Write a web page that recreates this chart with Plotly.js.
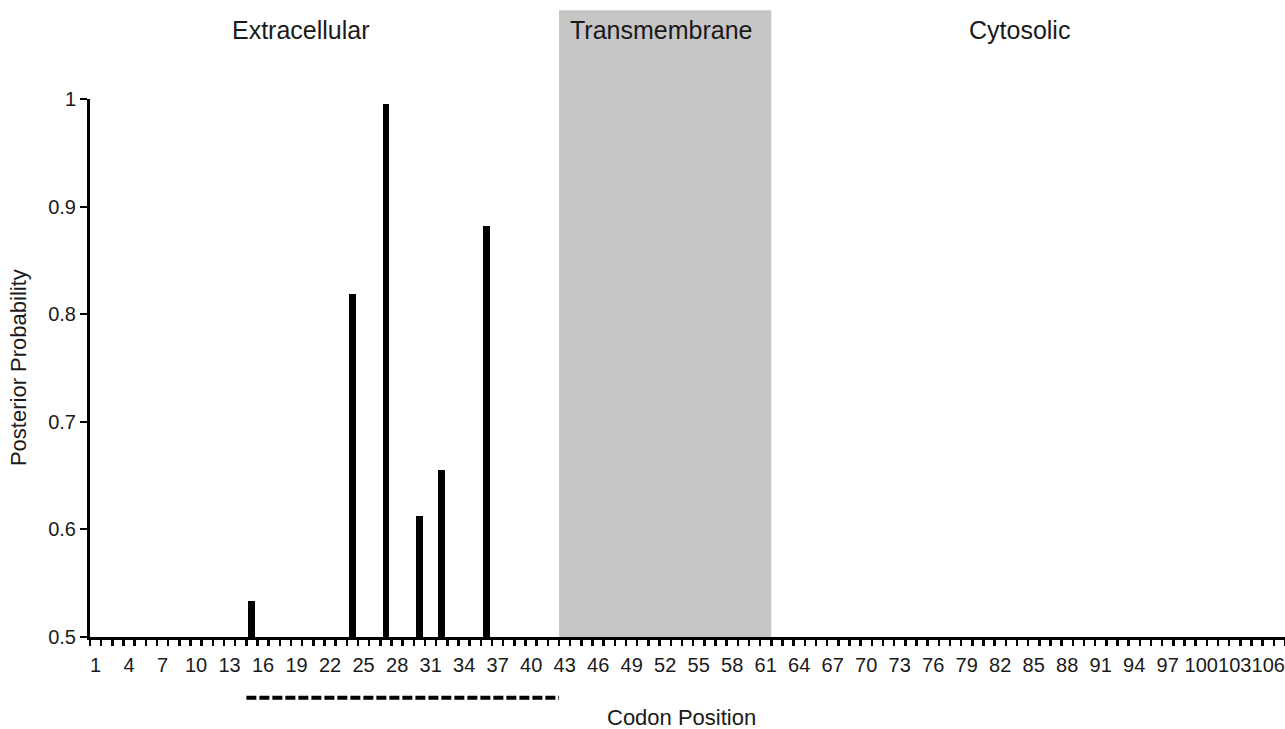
<!DOCTYPE html>
<html>
<head>
<meta charset="utf-8">
<script src="https://cdn.plot.ly/plotly-3.0.1.min.js"></script>
<style>html,body{margin:0;padding:0;background:#fff;}#chart{width:1285px;height:729px;}</style>
</head>
<body>
<div id="chart"></div>
<script>
// Data
const codons = [15, 24, 27, 30, 32, 36];
const posteriorProb = [0.533, 0.819, 0.995, 0.612, 0.655, 0.882];
const tickLabels = [1,4,7,10,13,16,19,22,25,28,31,34,37,40,43,46,49,52,55,58,61,64,67,70,73,76,79,82,85,88,91,94,97,100,103,106];
const regionNames = ["Extracellular", "Transmembrane", "Cytosolic"];
const regionLabelPos = [19.35, 51.6, 83.7];
const transmembrane = [42.5, 61.5];
const dashedSpan = [14.5, 42.5];
const codonCount = 107;

const font = "Liberation Sans, Arial, sans-serif";
const txt = "#1a1a1a";

const trace = {
  type: "bar",
  x: codons,
  y: posteriorProb,
  width: 0.62,
  marker: {color: "#000", line: {width: 0}},
  hoverinfo: "x+y"
};

const annotations = regionNames.map((n, i) => ({
  text: n, xref: "x", yref: "paper", x: regionLabelPos[i], y: 1.128,
  xanchor: "center", yanchor: "middle", showarrow: false,
  font: {family: font, size: 25, color: txt}
}));
annotations.push({
  text: "Codon Position", xref: "paper", yref: "paper", x: 0.495, y: -0.149,
  xanchor: "center", yanchor: "middle", showarrow: false,
  font: {family: font, size: 22, color: txt}
});
annotations.push({
  text: "Posterior Probability", xref: "paper", yref: "paper", x: -0.0602, y: 0.5,
  xanchor: "center", yanchor: "middle", showarrow: false, textangle: -90,
  font: {family: font, size: 22, color: txt}
});

const layout = {
  width: 1285, height: 729,
  margin: {l: 90, r: 0, t: 99, b: 92},
  paper_bgcolor: "#fff", plot_bgcolor: "#fff",
  showlegend: false,
  bargap: 0,
  xaxis: {
    range: [0.5, codonCount + 0.5],
    tickmode: "array", tickvals: tickLabels, ticktext: tickLabels.map(String),
    tickangle: 0,
    ticks: "", showgrid: false, zeroline: false,
    showline: true, linecolor: "#000", linewidth: 3,
    tickfont: {family: font, size: 20, color: txt},
    ticklabelstandoff: 8,
    minor: {ticks: "outside", tick0: 0.5, dtick: 1, ticklen: 6, tickwidth: 2.5, tickcolor: "#000", showgrid: false}
  },
  yaxis: {
    range: [0.5, 1],
    tickvals: [0.5, 0.6, 0.7, 0.8, 0.9, 1], ticktext: ["0.5","0.6","0.7","0.8","0.9","1"],
    ticks: "outside", ticklen: 7, tickwidth: 2, tickcolor: "#000",
    showgrid: false, zeroline: false,
    showline: true, linecolor: "#000", linewidth: 3,
    tickfont: {family: font, size: 20, color: txt}
  },
  shapes: [
    {type: "rect", xref: "x", yref: "paper", x0: transmembrane[0], x1: transmembrane[1], y0: 0, y1: 1.165,
     fillcolor: "#c6c6c6", line: {width: 0}, layer: "below"},
    {type: "line", xref: "x", yref: "paper", x0: dashedSpan[0], x1: dashedSpan[1], y0: -0.113, y1: -0.113,
     line: {color: "#000", width: 4, dash: "10px,3px"}}
  ],
  annotations: annotations
};

Plotly.newPlot("chart", [trace], layout, {displayModeBar: false, staticPlot: true});
</script>
</body>
</html>
